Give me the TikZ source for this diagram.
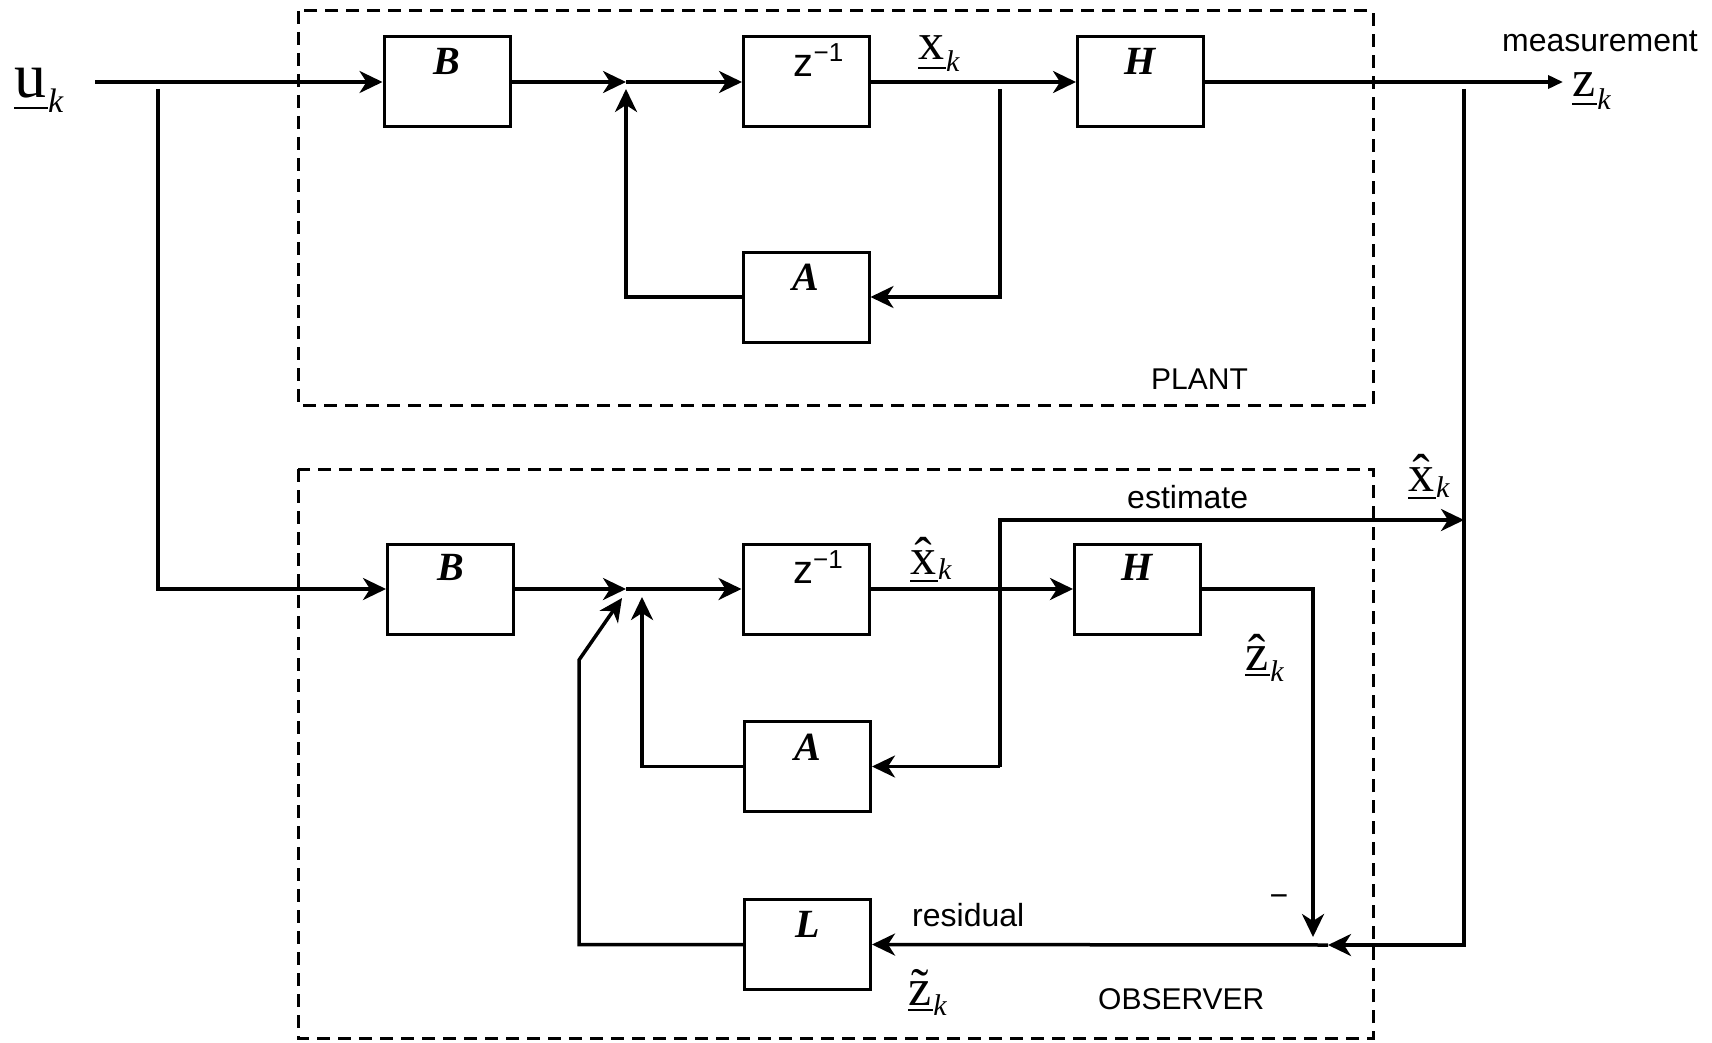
\documentclass[tikz,border=0pt]{standalone}
\usepackage{fontspec}
\setmainfont{Liberation Serif}
\newfontfamily\lsans{Liberation Sans}
\usetikzlibrary{arrows.meta}
\newcommand\myul[2]{\setbox0\hbox{#1}\rlap{\raisebox{#2}{\rule{\dimexpr\wd0+2pt\relax}{2.2pt}}}\box0}
% #1 letter, #2 letter size, #3 k size, #4 k lowering, #5 underline offset
\newcommand\mysig[5]{{\fontsize{#2}{#2}\selectfont\myul{#1}{#5}}\kern2pt\raisebox{#4}{\fontsize{#3}{#3}\selectfont\itshape k}}
\tikzset{
  blk/.style={draw, line width=3pt, minimum width=126pt, minimum height=90pt, inner sep=0pt},
  sig/.style={line width=3.5pt},
  arr/.style={sig, -{Stealth[length=23pt,width=22pt,inset=7pt]}},
  sarr/.style={sig, -{Triangle[length=15pt,width=13pt]}},
  frame/.style={line width=3pt, dash pattern=on 13pt off 8pt},
  boxlbl/.style={font=\fontsize{40}{40}\selectfont\bfseries\itshape, inner sep=0pt},
  zlbl/.style={font=\lsans\fontsize{40}{40}\selectfont, inner sep=0pt},
  sanslbl/.style={font=\lsans\fontsize{32}{32}\selectfont, inner sep=0pt, anchor=base west},
  symlbl/.style={inner sep=0pt, anchor=base west}
}
\begin{document}
\begin{tikzpicture}[x=1pt,y=-1pt]
\useasboundingbox (0,0) rectangle (1712,1043);
% frames
\draw[frame] (298,11) rectangle (1373,405);
\draw[frame] (298,469) rectangle (1373,1038);
% plant blocks
\node[blk] (B1) at (447,82) {};
\node[blk] (Z1) at (806.5,82) {};
\node[blk] (H1) at (1140.5,82) {};
\node[blk] (A1) at (806,297) {};
% observer blocks
\node[blk] (B2) at (450.5,589) {};
\node[blk] (Z2) at (806,589) {};
\node[blk] (H2) at (1137.5,589) {};
\node[blk] (A2) at (807.5,766.5) {};
\node[blk] (L2) at (807.5,944.5) {};
% block labels
\node[boxlbl] (B1l) at ([yshift=-26pt]B1.north) {B};
\node[boxlbl] (H1l) at ([yshift=-26pt]H1.north) {H};
\node[boxlbl] (A1l) at ([yshift=-27pt]A1.north) {A};
\node[boxlbl] (B2l) at ([yshift=-25pt]B2.north) {B};
\node[boxlbl] (H2l) at ([yshift=-25pt]H2.north) {H};
\node[boxlbl] (A2l) at ([yshift=-27pt]A2.north) {A};
\node[boxlbl] (L2l) at ([yshift=-26pt]L2.north) {L};
\node[zlbl] (Z1l) at ([xshift=12pt,yshift=-25pt]Z1.north) {z\raisebox{15pt}{\fontsize{26}{26}\selectfont −1}};
\node[zlbl] (Z2l) at ([xshift=12pt,yshift=-25pt]Z2.north) {z\raisebox{15pt}{\fontsize{26}{26}\selectfont −1}};
% coordinates
\coordinate (ustart) at (95,82);
\coordinate (ubr) at (158,89);
\coordinate (ucorner) at (158,589);
\coordinate (J1) at (626,82);
\coordinate (J1b) at (626,89);
\coordinate (xbr) at (1000,89);
\coordinate (zend) at (1563,82);
\coordinate (J2) at (626,589);
\coordinate (zbr) at (1464,89);
\coordinate (zcorner) at (1464,945);
\coordinate (sumR) at (1328,945);
\coordinate (est) at (1000,766.5);
\coordinate (estend) at (1464,520);
\coordinate (zhatc) at (1313,589);
\coordinate (zhatend) at (1313,937);
% plant connectors
\draw[arr] (ustart) -- (B1.west);
\draw[arr] (B1.east) -- (J1);
\draw[arr] (J1) -- (Z1.west);
\draw[arr] (Z1.east) -- (H1.west);
\draw[sarr] (H1.east) -- (zend);
\draw[arr] (xbr) |- (A1.east);
\draw[arr] (A1.west) -| (J1b);
% observer connectors
\draw[arr] (ubr) -- (ucorner) -- (B2.west);
\draw[arr] (B2.east) -- (J2);
\draw[arr] (J2) -- (Z2.west);
\draw[arr] (Z2.east) -- (H2.west);
\draw[arr] (A2.west) -| (642,597);
\draw[arr] (est) -- (A2.east);
\draw[arr] (est) |- (estend);
\draw[arr] (H2.east) -- (zhatc) -- (zhatend);
\draw[arr] (zbr) -- (zcorner) -- (sumR);
\draw[arr] (sumR) -- (L2.east);
\draw[arr] (L2.west) -| (579,660) -- (622,598);
% signal labels
\node[symlbl] (uk) at (14,98) {\mysig{u}{64}{34}{-15pt}{-11pt}};
\node[symlbl] (xk) at (918,60) {\mysig{x}{52}{30}{-12pt}{-9pt}};
\node[symlbl] (zk) at (1572,97) {\mysig{z}{52}{30}{-13pt}{-8pt}};
\node[symlbl] (xh2) at (910,574) {\mysig{\^{x}}{52}{30}{-5pt}{-8pt}};
\node[symlbl] (xh3) at (1408,491) {\mysig{\^{x}}{52}{30}{-6pt}{-8pt}};
\node[symlbl] (zh) at (1245,670) {\mysig{\^{z}}{52}{30}{-11pt}{-6pt}};
\node[symlbl] (zt) at (908,1005) {\mysig{\~{z}}{52}{30}{-10pt}{-6pt}};
% text labels
\node[sanslbl] (meas) at (1502,52) {measurement};
\node[sanslbl] (estl) at (1127,508) {estimate};
\node[sanslbl, font=\lsans\fontsize{30}{30}\selectfont] (plant) at (1151,389) {PLANT};
\node[sanslbl, font=\lsans\fontsize{30}{30}\selectfont] (obs) at (1098,1009) {OBSERVER};
\node[sanslbl] (resid) at (912,926) {residual};
\node[font=\lsans\fontsize{32}{32}\selectfont, inner sep=0pt, anchor=base] (minus) at (1279,906) {−};
\end{tikzpicture}
\end{document}
